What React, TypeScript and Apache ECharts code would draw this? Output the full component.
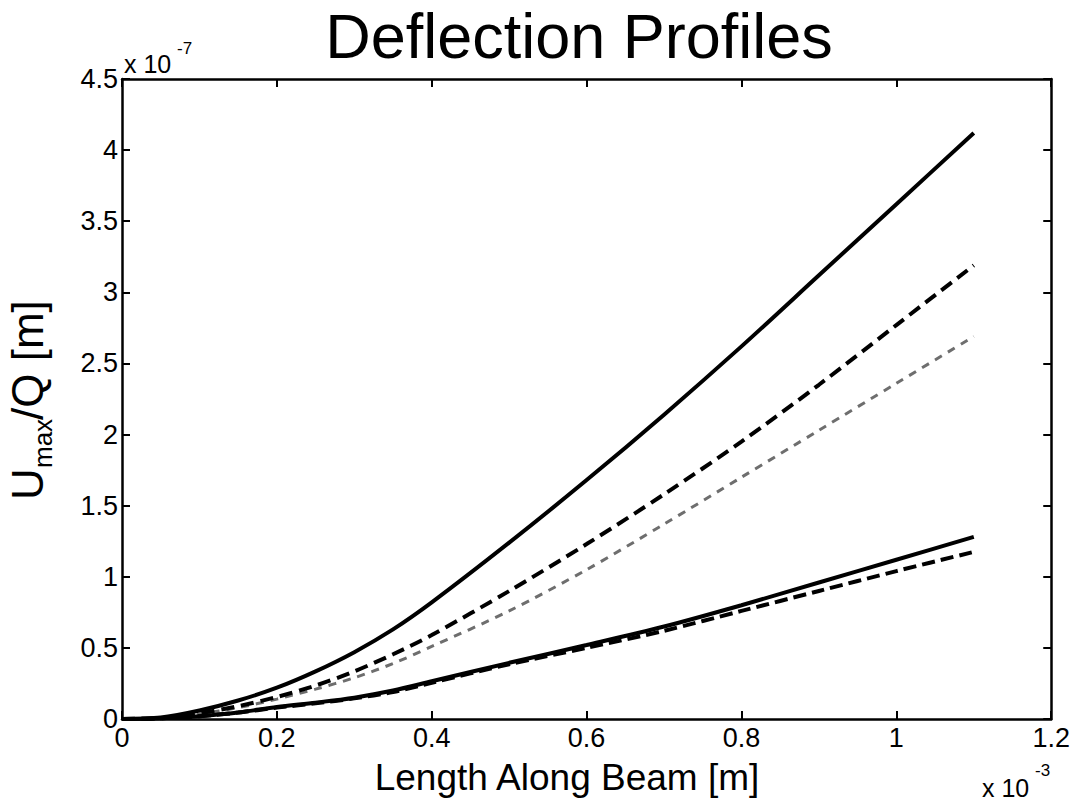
import React, { useEffect, useRef } from "react";
import * as echarts from "echarts";

// x positions along the beam (x 10^-3 m)
const xPos = [0, 0.05, 0.1, 0.15, 0.2, 0.25, 0.3, 0.35, 0.4, 0.5, 0.6, 0.7, 0.8, 0.9, 1.0, 1.1];
// deflection values (x 10^-7 m)
const upperSolid = [0, 0.01, 0.06, 0.13, 0.22, 0.335, 0.47, 0.63, 0.82, 1.24, 1.68, 2.14, 2.62, 3.12, 3.62, 4.12];
const upperDashed = [0, 0.005, 0.04, 0.09, 0.155, 0.235, 0.335, 0.455, 0.59, 0.9, 1.23, 1.58, 1.95, 2.35, 2.77, 3.19];
const grayDashed = [0, 0.005, 0.035, 0.08, 0.14, 0.21, 0.29, 0.39, 0.51, 0.76, 1.05, 1.37, 1.7, 2.03, 2.36, 2.69];
const lowerSolid = [0, 0.005, 0.02, 0.045, 0.085, 0.115, 0.15, 0.2, 0.265, 0.395, 0.52, 0.65, 0.8, 0.96, 1.12, 1.28];
const lowerDashed = [0, 0.005, 0.02, 0.045, 0.08, 0.11, 0.145, 0.19, 0.255, 0.385, 0.5, 0.62, 0.76, 0.9, 1.04, 1.175];

const FONT = "'Liberation Sans', Arial, Helvetica, sans-serif";

const toPts = (ys: number[]) => xPos.map((x, i) => [x, ys[i]]);

export default function App() {
  const ref = useRef<HTMLDivElement>(null);
  useEffect(() => {
    if (!ref.current) return;
    const chart = echarts.init(ref.current, undefined, { renderer: "svg" });
    const axisCommon = {
      type: "value" as const,
      axisLine: { show: true, onZero: false, lineStyle: { color: "#000", width: 2.5 } },
      axisTick: { show: true, inside: true, length: 8, lineStyle: { color: "#000", width: 2 } },
      splitLine: { show: false },
    };
    const xAxisBase = { ...axisCommon, min: 0, max: 1.2, interval: 0.2 };
    const yAxisBase = { ...axisCommon, min: 0, max: 4.5, interval: 0.5 };
    const labelStyle = { color: "#000", fontSize: 27, fontFamily: FONT };
    const lineSeries = (ys: number[], lineStyle: any) => ({
      type: "line", data: toPts(ys), symbol: "none", smooth: 0.3,
      lineStyle,
    });
    chart.setOption({
      animation: false,
      backgroundColor: "#fff",
      grid: { left: 122, right: 19, top: 79, bottom: 82, containLabel: false },
      xAxis: [
        { ...xAxisBase, position: "bottom", axisLabel: { ...labelStyle, margin: 5 } },
        { ...xAxisBase, position: "top", axisLabel: { show: false } },
      ],
      yAxis: [
        { ...yAxisBase, position: "left", axisLabel: { ...labelStyle, margin: 4 } },
        { ...yAxisBase, position: "right", axisLabel: { show: false } },
      ],
      series: [
        lineSeries(grayDashed, { color: "#6e6e6e", width: 3, type: [8, 7] }),
        lineSeries(upperDashed, { color: "#000", width: 4, type: [13, 7] }),
        lineSeries(lowerDashed, { color: "#000", width: 4, type: [13, 6] }),
        lineSeries(upperSolid, { color: "#000", width: 4 }),
        lineSeries(lowerSolid, { color: "#000", width: 4 }),
      ],
      graphic: [
        {
          type: "text", x: 579, y: 36,
          style: { text: "Deflection Profiles", fontSize: 63, fontFamily: FONT, fill: "#000", textAlign: "center", textVerticalAlign: "middle" },
        },
        {
          type: "text", x: 567, y: 777,
          style: { text: "Length Along Beam [m]", fontSize: 37, fontFamily: FONT, fill: "#000", textAlign: "center", textVerticalAlign: "middle" },
        },
        // exponent labels
        {
          type: "text", x: 124, y: 64,
          style: { text: "x 10", fontSize: 25, fontFamily: FONT, fill: "#000", textAlign: "left", textVerticalAlign: "middle" },
        },
        {
          type: "text", x: 177, y: 48,
          style: { text: "-7", fontSize: 17, fontFamily: FONT, fill: "#000", textAlign: "left", textVerticalAlign: "middle" },
        },
        {
          type: "text", x: 982, y: 788,
          style: { text: "x 10", fontSize: 25, fontFamily: FONT, fill: "#000", textAlign: "left", textVerticalAlign: "middle" },
        },
        {
          type: "text", x: 1035, y: 770,
          style: { text: "-3", fontSize: 17, fontFamily: FONT, fill: "#000", textAlign: "left", textVerticalAlign: "middle" },
        },
        // y axis name with subscript, rotated
        {
          type: "group", x: 27, y: 500, rotation: Math.PI / 2,
          children: [
            {
              type: "text", x: 0, y: 0,
              style: { text: "U", fontSize: 44, fontFamily: FONT, fill: "#000", textAlign: "left", textVerticalAlign: "middle" },
            },
            {
              type: "text", x: 32, y: 16,
              style: { text: "max", fontSize: 26, fontFamily: FONT, fill: "#000", textAlign: "left", textVerticalAlign: "middle" },
            },
            {
              type: "text", x: 80, y: 0,
              style: { text: "/Q [m]", fontSize: 44, fontFamily: FONT, fill: "#000", textAlign: "left", textVerticalAlign: "middle" },
            },
          ],
        },
      ],
    });
    return () => chart.dispose();
  }, []);
  return <div ref={ref} style={{ width: 1073, height: 801, position: "absolute", left: 0, top: 0 }} />;
}
